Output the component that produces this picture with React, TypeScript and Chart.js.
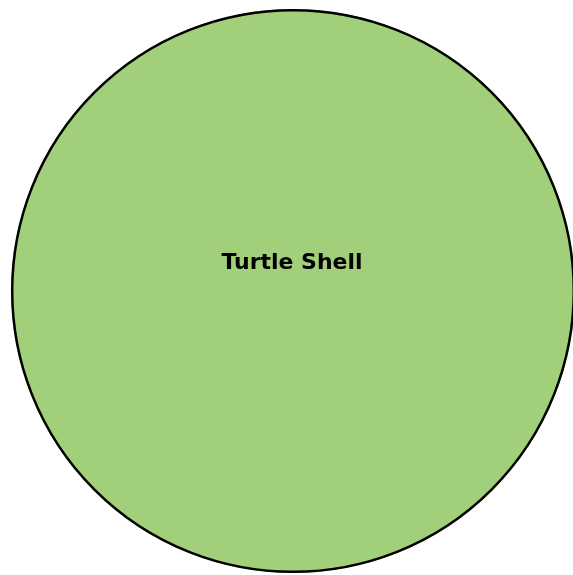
import React, { useEffect, useRef } from "react";
import { Chart, registerables } from "chart.js";

Chart.register(...registerables);

const categories = ["Turtle Shell"];
const values = [100];
const colors = ["#a2d07a"];

const outlinePlugin = {
  id: "outlineAndLabel",
  afterDatasetsDraw(chart: any) {
    const meta = chart.getDatasetMeta(0);
    const ctx = chart.ctx;
    meta.data.forEach((arc: any, i: number) => {
      const { x, y, outerRadius } = arc.getProps(["x", "y", "outerRadius"], true);
      ctx.save();
      ctx.beginPath();
      ctx.arc(x, y, outerRadius - 1.2, 0, Math.PI * 2);
      ctx.lineWidth = 2.5;
      ctx.strokeStyle = "#000000";
      ctx.stroke();
      ctx.fillStyle = "#000000";
      ctx.font = "bold 22px 'DejaVu Sans'";
      ctx.textAlign = "center";
      ctx.textBaseline = "middle";
      ctx.fillText(categories[i], x - 1, y - outerRadius * 0.1);
      ctx.restore();
    });
  },
};

export default function App() {
  const ref = useRef<HTMLCanvasElement | null>(null);
  useEffect(() => {
    document.body.style.margin = "0";
    if (!ref.current) return;
    const chart = new Chart(ref.current, {
      type: "pie",
      data: {
        labels: categories,
        datasets: [
          {
            data: values,
            backgroundColor: colors,
            borderWidth: 0,
          },
        ],
      },
      options: {
        responsive: false,
        animation: false,
        layout: { padding: { left: 11, right: 2, top: 9, bottom: 4 } },
        plugins: {
          legend: { display: false },
          tooltip: { enabled: false },
          title: { display: false },
        },
      },
      plugins: [outlinePlugin],
    });
    return () => chart.destroy();
  }, []);
  return (
    <div
      style={{
        position: "fixed",
        left: 0,
        top: 0,
        width: 573,
        height: 575,
        overflow: "hidden",
        background: "#fff",
      }}
    >
      <canvas ref={ref} width={577} height={577} style={{ width: 577, height: 577 }} />
    </div>
  );
}
